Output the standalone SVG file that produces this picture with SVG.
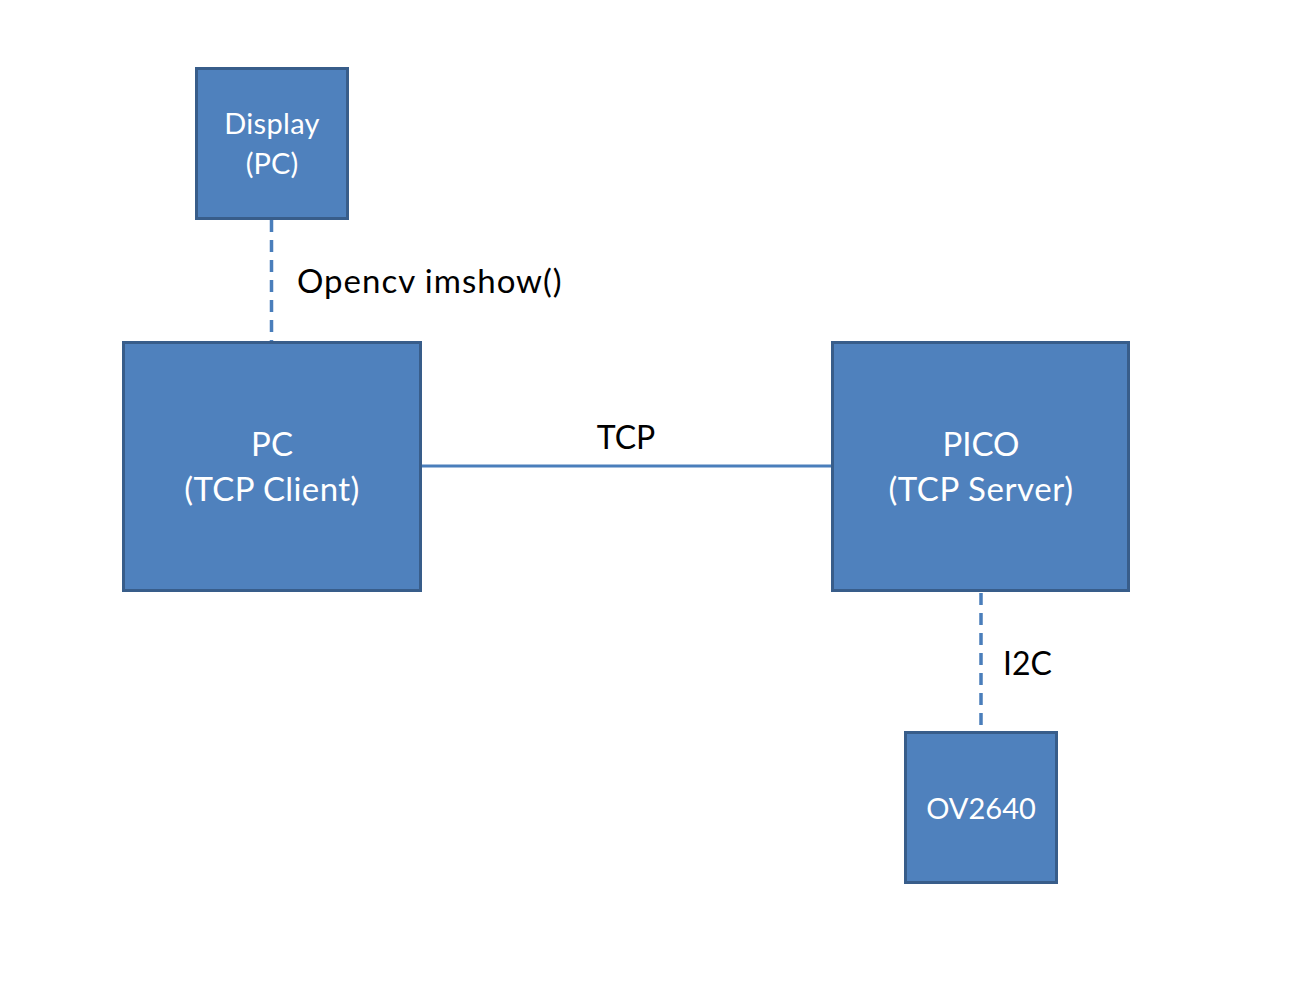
<svg xmlns="http://www.w3.org/2000/svg" width="1311" height="986" viewBox="0 0 1311 986">
<style>
.box{fill:#4F81BD;stroke:#385D8A;stroke-width:3}
.lbl{font-family:Lato,"Open Sans",sans-serif;fill:#FFFFFF;text-anchor:middle}
.edge{font-family:Lato,"Open Sans",sans-serif;fill:#000000}
.dash{stroke:#4A7EBB;stroke-width:3.5;stroke-dasharray:12 8;fill:none}
.solid{stroke:#4A7EBB;stroke-width:3;fill:none}
</style>
<rect width="1311" height="986" fill="#FFFFFF"/>
<g id="connectors">
<line class="dash" x1="271.5" y1="220" x2="271.5" y2="342"/>
<line class="solid" x1="421" y1="466" x2="832" y2="466"/>
<line class="dash" x1="981" y1="593" x2="981" y2="732"/>
<text class="edge" x="297" y="293" font-size="33" letter-spacing="1">Opencv imshow()</text>
<text class="edge" x="626" y="449" font-size="32" text-anchor="middle">TCP</text>
<text class="edge" x="1003" y="675" font-size="32">I2C</text>
</g>
<g id="display">
<rect class="box" x="196.5" y="68.5" width="151" height="150"/>
<text class="lbl" x="272" y="134" font-size="29" letter-spacing="0.3">Display</text>
<text class="lbl" x="272" y="174" font-size="29">(PC)</text>
</g>
<g id="pc">
<rect class="box" x="123.5" y="342.5" width="297" height="248"/>
<text class="lbl" x="272" y="456" font-size="33">PC</text>
<text class="lbl" x="272" y="501" font-size="33" letter-spacing="0.4">(TCP Client)</text>
</g>
<g id="pico">
<rect class="box" x="832.5" y="342.5" width="296" height="248"/>
<text class="lbl" x="981" y="456" font-size="33">PICO</text>
<text class="lbl" x="981" y="501" font-size="33" letter-spacing="0.6">(TCP Server)</text>
</g>
<g id="ov2640">
<rect class="box" x="905.5" y="732.5" width="151" height="150"/>
<text class="lbl" x="981" y="819" font-size="29">OV2640</text>
</g>
</svg>
